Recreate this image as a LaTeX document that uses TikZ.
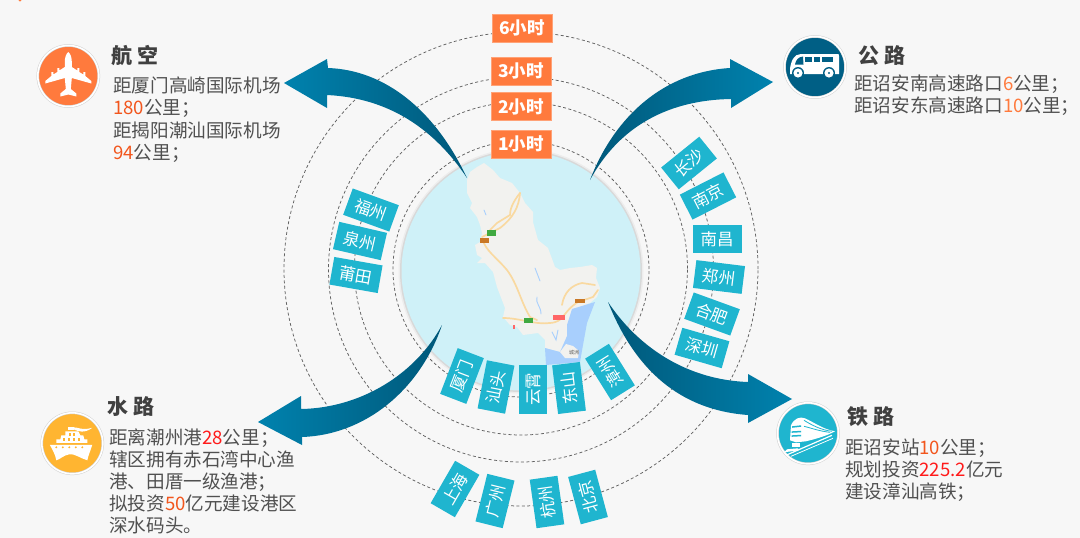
\documentclass[tikz,border=0pt]{standalone}
\usepackage{fontspec}
\setmainfont{Noto Sans CJK SC}
\usepackage{xcolor}
\usetikzlibrary{arrows.meta}

\definecolor{pagebg}{HTML}{F7F7F7}
\definecolor{bodygray}{HTML}{505050}
\definecolor{titlegray}{HTML}{404040}
\definecolor{tagorange}{HTML}{FF7A3D}
\definecolor{numorange}{HTML}{F2561D}
\definecolor{numred}{HTML}{FF1A1A}
\definecolor{boxteal}{HTML}{1FB5CF}
\definecolor{swdark}{HTML}{00587A}
\definecolor{swlight}{HTML}{0082AE}
\definecolor{busblue}{HTML}{005F85}
\definecolor{shipyellow}{HTML}{FFB531}
\definecolor{seablue}{HTML}{CFF1F8}
\definecolor{landgray}{HTML}{F2F2EF}
\definecolor{roadorange}{HTML}{F9D9A0}
\definecolor{bayblue}{HTML}{A8CFFD}

\newcommand{\numo}[1]{\textcolor{numorange}{#1}}
\newcommand{\numr}[1]{\textcolor{numred}{#1}}

\tikzset{
  ringline/.style={draw=black!62,line width=.75pt,dash pattern=on 3pt off 2.4pt},
  headtext/.style={anchor=west,inner sep=0pt,text=titlegray,font=\fontsize{21}{24}\selectfont\bfseries},
  bodytext/.style={anchor=north west,inner sep=0pt,align=left,text=bodygray,font=\fontsize{18.6}{22}\selectfont},
  iconring/.style={circle,minimum size=61pt,inner sep=0pt,fill=#1,draw=black!18,double=white,double distance=1.6pt,line width=.5pt},
  swooshl/.style={left color=swlight,right color=swdark},
  swooshr/.style={left color=swdark,right color=swlight},
  road/.style={draw=roadorange,line width=1.7pt,line cap=round},
  river/.style={draw=bayblue,line width=.9pt,line cap=round}
}

\begin{document}
\begin{tikzpicture}[x=1pt,y=-1pt]
  \useasboundingbox (0,0) rectangle (1080,538);
  \fill[pagebg] (0,0) rectangle (1080,538);
  \fill[tagorange] (20,0) circle (1.6pt);

  % rings
  \draw[ringline] (521,269) circle (237pt);
  \draw[ringline] (521,269.5) circle (192.5pt);
  \draw[ringline] (521,268.5) circle (166.5pt);
  \draw[ringline] (521,269) circle (128pt);

  % disc and map
  \fill[black!7] (521,271) circle (122.5pt);
  \fill[black!15] (521,271) circle (121pt);
  \fill[seablue] (521,271) circle (119.5pt);
  \fill[landgray] (484,163) -- (493,170) -- (500,178) -- (512,183) -- (520,193) -- (525,203)
    -- (533,212) -- (533,222) -- (538,240) -- (548,248) -- (555,267) -- (560,270) -- (570,268)
    -- (580,267) -- (592,265) -- (597,268) -- (596,278) -- (600,288) -- (597,297) -- (590,303)
    -- (572,310) -- (567,330) -- (567,338) -- (560,352) -- (545,348) -- (545,340) -- (538,333)
    -- (523,335) -- (517,327) -- (510,325) -- (503,317) -- (505,308) -- (497,287) -- (493,272)
    -- (485,263) -- (477,263) -- (482,258) -- (477,255) -- (475,245) -- (480,242) -- (482,233)
    -- (480,225) -- (477,217) -- (470,208) -- (472,203) -- (467,193) -- (467,180) -- (470,172)
    -- (477,167) -- cycle;
  \fill[bayblue] (595,302) -- (572,309) -- (567,325) -- (567,336) -- (560,352) -- (545,348)
    -- (546,365) -- (580,362) -- (583,345) -- (587,323) -- cycle;
  \fill[landgray] (560,352) -- (566,344) -- (573,346) -- (579,351) -- (578,358) -- (565,358) -- cycle;
  \draw[road] (520,193) .. controls (519,207) and (513,218) .. (500,228) -- (482,237);
  \draw[road] (520,193) .. controls (512,203) and (510,210) .. (510,215) -- (497,223) -- (490,230);
  \draw[road] (483,240) .. controls (485,250) and (497,258) .. (507,270)
    .. controls (518,285) and (520,300) .. (530,317) -- (537,320);
  \draw[road] (503,318) .. controls (520,318) and (535,325) .. (550,323)
    .. controls (565,322) and (562,312) .. (578,302) -- (593,297) -- (598,290);
  \draw[road] (562,305) .. controls (564,292) and (572,285) .. (582,283) -- (595,285);
  \draw[river] (484,210) -- (486,215);
  \draw[river] (535,268) -- (540,281);
  \draw[river] (537,297) .. controls (535,303) and (541,306) .. (541,314);
  \draw[river] (552,332) -- (556,340) -- (558,330);
  \fill[green!55!black!75] (487,230) rectangle (496,235.5);
  \fill[orange!75!black!85] (480,237.5) rectangle (489,243);
  \fill[orange!75!black!85] (575,298.5) rectangle (585,303);
  \fill[red!60!white] (553,315) rectangle (565,320);
  \fill[green!55!black!75] (523.5,317.5) rectangle (532.5,323);
  \fill[red!60!white] (512.5,325) rectangle (514.5,328.5);
  \node[inner sep=0pt,text=black!65,font=\fontsize{5}{6}\selectfont] (islet) at (574,353) {城洲};

  % swooshes
  \shade[swooshl] (284,83) -- (327,59) -- (328,68) .. controls (385,70) and (435,110) .. (467,178)
    .. controls (435,130) and (390,98) .. (327,95) -- (327,108) -- cycle;
  \shade[swooshr] (773,82) -- (730,59) -- (730,68) .. controls (665,72) and (615,115) .. (590,180)
    .. controls (620,125) and (670,100) .. (731,99) -- (731,108) -- cycle;
  \shade[swooshl] (258,422) -- (301,396) -- (301,409) .. controls (360,408) and (415,375) .. (442,325)
    .. controls (420,390) and (365,435) .. (302,437) -- (302,445) -- cycle;
  \shade[swooshr] (792,399) -- (748,374) -- (748,382) .. controls (690,380) and (640,350) .. (608,302)
    .. controls (635,370) and (680,410) .. (748,415) -- (748,423) -- cycle;

  % time tags
  \begin{scope}[every node/.style={fill=tagorange,draw=tagorange!70!white,line width=.5pt,
      minimum width=60pt,minimum height=28pt,inner sep=0pt,text=white,
      font=\fontsize{17.5}{20}\selectfont\bfseries}]
    \node (h6) at (522,28) {6小时};
    \node (h3) at (521,71) {3小时};
    \node (h2) at (521,106.5) {2小时};
    \node (h1) at (521,144) {1小时};
  \end{scope}

  % city boxes
  \begin{scope}[every node/.style={fill=boxteal,minimum width=49pt,minimum height=28pt,inner sep=0pt,
      text=white,font=\fontsize{16.5}{18}\selectfont}]
    \node[rotate=-20] (fz) at (371,210) {福州};
    \node[rotate=-13] (qz) at (360,241) {泉州};
    \node[rotate=-10] (pt) at (356,275) {莆田};

    \node[rotate=39] (cs) at (689,163) {长沙};
    \node[rotate=27] (nj) at (708,196) {南京};
    \node (nc) at (717,239) {南昌};
    \node[rotate=-7] (zz) at (719,277) {郑州};
    \node[rotate=-20] (hf) at (712,314) {合肥};
    \node[rotate=-16] (sz) at (702,348) {深圳};

    \node[rotate=69] (xm) at (462,376) {厦门};
    \node[rotate=79] (st) at (496,387) {汕头};
    \node[rotate=90] (yx) at (533,389) {云霄};
    \node[rotate=97] (ds) at (569,388) {东山};
    \node[rotate=122] (zhz) at (610,372) {漳州};

    \node[rotate=60] (sh) at (455,489) {上海};
    \node[rotate=76] (gz) at (495,501) {广州};
    \node[rotate=98] (hz) at (547,502) {杭州};
    \node[rotate=105] (bj) at (588,497) {北京};
  \end{scope}

  % plane
  \node[iconring=tagorange] (air) at (68.3,76) {};
  \begin{scope}[shift={(68.3,76)}]
    \fill[white] (0,-24) .. controls (2.5,-22) and (3.5,-18) .. (3.5,-14) -- (3.5,-9) -- (9,-5.5)
      -- (9,-8) -- (11,-8) -- (11,-4) -- (15,-1.5) -- (15,-4) -- (17,-4) -- (17,0) -- (23,5) -- (23,7.5)
      -- (3.5,2) -- (2.5,13) -- (8,17.5) -- (8,20.5) -- (0,18.5) -- (-8,20.5) -- (-8,17.5) -- (-2.5,13)
      -- (-3.5,2) -- (-23,7.5) -- (-23,5) -- (-17,0) -- (-17,-4) -- (-15,-4) -- (-15,-1.5) -- (-11,-4)
      -- (-11,-8) -- (-9,-8) -- (-9,-5.5) -- (-3.5,-9) -- (-3.5,-14) .. controls (-3.5,-18) and (-2.5,-22) .. cycle;
  \end{scope}

  % bus
  \node[iconring=busblue] (bus) at (815,67) {};
  \begin{scope}[shift={(815,67)}]
    \fill[white] (-25,7) -- (-25,2) .. controls (-24,-6) and (-21,-13) .. (-14,-13) -- (23,-13)
      .. controls (24,-13) and (24,-12) .. (24,-11) -- (24,7) -- cycle;
    \fill[busblue] (-20,-2.5) .. controls (-19,-7) and (-17,-10) .. (-12,-10.5) -- (-11.5,-2.5) -- cycle;
    \fill[busblue] (-10,-10.5) rectangle (-3.5,-5);
    \fill[busblue] (-1.5,-10.5) rectangle (4.5,-5);
    \fill[busblue] (6.5,-10.5) rectangle (18,-5);
    \fill[busblue] (-17,6) circle (6pt);
    \fill[white] (-17,6) circle (4.6pt);
    \fill[busblue] (-17,6) circle (1.2pt);
    \fill[busblue] (14,6) circle (6pt);
    \fill[white] (14,6) circle (4.6pt);
    \fill[busblue] (14,6) circle (1.2pt);
  \end{scope}

  % ship
  \node[iconring=shipyellow] (ship) at (72.3,443.3) {};
  \begin{scope}[shift={(72.3,443.3)}]
    \fill[white] (-22.5,1.5) -- (20,1.5) .. controls (18,8) and (16,12) .. (15,17)
      .. controls (8,15) and (2,10) .. (-3,11) .. controls (-9,12) and (-12,16) .. (-16,17)
      .. controls (-17,11) and (-20,6) .. (-22.5,1.5) -- cycle;
    \fill[white] (-16,-0.5) -- (-16,-4) -- (-12,-4) -- (-11,-8) -- (-7,-8) -- (-7,-12) -- (6,-12)
      -- (8,-8) -- (11,-8) -- (12,-4) -- (15,-4) -- (15,-0.5) -- cycle;
    \fill[white] (-4,-13.5) rectangle (2,-16);
    \fill[white] (1,-16) .. controls (7,-16) and (9,-12.5) .. (20,-15.5) .. controls (12,-9.5) and (6,-12) .. (1,-14) -- cycle;
    \fill[shipyellow] (-16,4) circle (1.1pt);
    \fill[shipyellow] (-9.5,4) circle (1.1pt);
    \fill[shipyellow] (-3,4) circle (1.1pt);
    \fill[shipyellow] (3.5,4) circle (1.1pt);
    \fill[shipyellow] (10,4) circle (1.1pt);
    \fill[shipyellow] (-9,-2.5) rectangle (-7,-5);
    \fill[shipyellow] (-4,-2.5) rectangle (-2,-5);
    \fill[shipyellow] (1,-2.5) rectangle (3,-5);
    \fill[shipyellow] (6,-2.5) rectangle (8,-5);
    \fill[shipyellow] (-3,-7) rectangle (-1.5,-10);
    \fill[shipyellow] (1,-7) rectangle (2.5,-10);
  \end{scope}

  % train
  \node[iconring=boxteal] (rail) at (808,433.3) {};
  \begin{scope}[shift={(808,433.3)}]
    \fill[white] (-17,-8) .. controls (-14,-15) and (-8,-17) .. (-3,-15) .. controls (6,-11) and (15,-4) .. (27,-2)
      .. controls (18,3) and (6,6) .. (-2,8) -- (-12,9) -- (-18,7) -- cycle;
    \fill[boxteal] (-16,-7) -- (-7,-8) -- (-7,-6.5) -- (-16,-5.5) -- cycle;
    \fill[boxteal] (-16.5,-2) -- (-7,-2.5) -- (-7,-1) -- (-16.5,-.5) -- cycle;
    \fill[boxteal] (-16.5,2) -- (-7,1.5) -- (-7,3) -- (-16.5,3.5) -- cycle;
    \draw[boxteal,line width=.8pt] (-4,-13) .. controls (4,-8) and (14,-3) .. (24,-2);
    \draw[boxteal,line width=.8pt] (-4,-7) .. controls (4,-5) and (12,-2) .. (22,-1);
    \fill[white] (-16,10) rectangle (-8,13.5);
    \fill[white] (-21,16) -- (-10,15) -- (-9,17) -- (-24,19) -- cycle;
    \draw[white,line width=1.2pt] (-21,21.5) -- (24,2);
    \draw[white,line width=.8pt] (-17,23) -- (25,5);
  \end{scope}

  % air
  \node[headtext] (airhead) at (111,56) {航 空};
  \node[bodytext] (airtxt) at (113,77) {距厦门高崎国际机场\\\numo{180}公里；};
  \node[bodytext] (airtxtb) at (113,122) {距揭阳潮汕国际机场\\\numo{94}公里；};

  % road
  \node[headtext] (bushead) at (858,56) {公 路};
  \node[bodytext] (bustxt) at (854,75) {距诏安南高速路口\textcolor{tagorange}{6}公里；\\距诏安东高速路口\textcolor{tagorange}{10}公里；};

  % water
  \node[headtext] (shiphead) at (107,407) {水 路};
  \node[bodytext] (shiptxt) at (109,428.5) {距离潮州港\numr{28}公里；\\辖区拥有赤石湾中心渔\\港、田厝一级渔港；\\拟投资\numo{50}亿元建设港区\\深水码头。};

  % rail
  \node[headtext] (railhead) at (847,417) {铁 路};
  \node[bodytext] (railtxt) at (845,439) {距诏安站\numo{10}公里；\\规划投资\numr{225.2}亿元\\建设漳汕高铁；};
\end{tikzpicture}
\end{document}
